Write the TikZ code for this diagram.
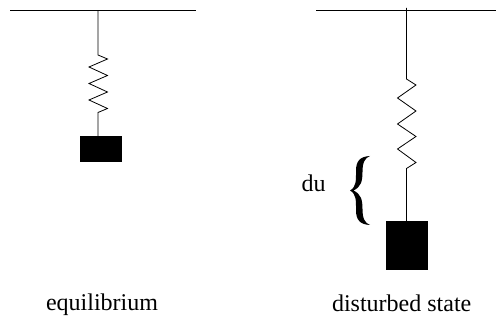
\documentclass[tikz,border=0pt]{standalone}
\usepackage{fontspec}
\setmainfont{Liberation Serif}
\tikzset{
  wire/.style={draw=black,line width=0.8pt,line join=miter},
  barline/.style={draw=black,line width=1pt},
  mass/.style={fill=black,draw=none},
  caption/.style={font=\fontsize{24}{28}\selectfont,inner sep=0pt,anchor=base}
}
\begin{document}
\begin{tikzpicture}[x=1pt,y=-1pt]
\useasboundingbox (0,0) rectangle (496,320);
% left: equilibrium
\coordinate (lbarL) at (10,10.5);
\coordinate (lbarR) at (196,10.5);
\coordinate (ltop) at (98,10.5);
\coordinate (lmass) at (98,136.5);
\draw[barline] (lbarL) -- (lbarR);
\draw[wire] (ltop) -- (98,55) -- (107.5,59) -- (89,67) -- (107.5,75.5) -- (89,83.5) -- (107.5,92) -- (89,100) -- (107.5,108.5) -- (98,112.5) -- (lmass);
\fill[mass] (80,136.5) rectangle (121.5,162);
\node[caption] (eq) at (102,310.8) {equilibrium};
% right: disturbed state
\coordinate (rbarL) at (316,10.5);
\coordinate (rbarR) at (496,10.5);
\coordinate (rtop) at (406.5,8);
\coordinate (rmass) at (406.5,221.5);
\draw[barline] (rbarL) -- (rbarR);
\draw[wire] (rtop) -- (406.5,79) -- (416,85) -- (397.5,98) -- (416,111) -- (397.5,124) -- (416,136.5) -- (397.5,149) -- (416,162.5) -- (406.5,168.5) -- (rmass);
\fill[mass] (386,221.5) rectangle (428,270);
\node[caption] (ds) at (401.7,311.3) {disturbed state};
\node[caption] (du) at (313.7,191.7) {du};
% brace
\fill[black] (370,156) .. controls (360,156.5) and (356,161) .. (356,171)
  .. controls (356,180) and (356.5,187) .. (350,190.5)
  .. controls (356.5,194) and (356,201) .. (356,210)
  .. controls (356,220) and (360,224.5) .. (370,225)
  .. controls (365,223) and (362.5,219) .. (362.5,209)
  .. controls (362.5,200) and (361,194) .. (353.5,190.5)
  .. controls (361,187) and (362.5,181) .. (362.5,172)
  .. controls (362.5,162) and (365,158) .. (370,156) -- cycle;
\end{tikzpicture}
\end{document}
